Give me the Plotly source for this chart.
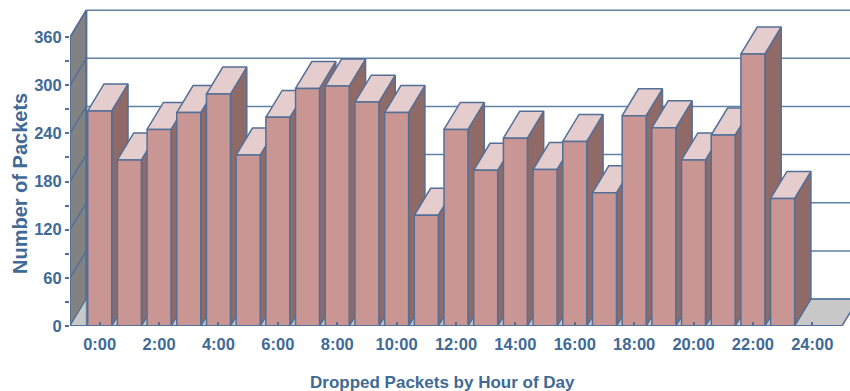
import plotly.graph_objects as go

hours = list(range(24))
packets = [268, 207, 245, 266, 289, 213, 260, 296, 299, 279, 266, 138,
           245, 194, 234, 195, 230, 166, 262, 247, 207, 238, 339, 159]
y_ticks = [0, 60, 120, 180, 240, 300, 360]
x_ticks = list(range(0, 25, 2))
x_labels = [f"{h}:00" for h in x_ticks]

X_MIN, X_MAX, Y_MAX = -1, 25.27, 400
AXIS_END = 25
DX, DY = 0.55, 33.6      # depth of the 3D box in axis units
HALF = 0.404
FRONT, TOP, SIDE = "#c99694", "#e6cdcd", "#8f6a66"
EDGE = "#546f96"
GRID = "#5f82a6"
TXT = "#3f6a96"
FONT = "Liberation Sans"

fig = go.Figure()

def poly(xs, ys, fill, line=EDGE, width=1.5):
    fig.add_trace(go.Scatter(x=xs, y=ys, mode="lines", fill="toself", fillcolor=fill,
                             line=dict(color=line, width=width), hoverinfo="skip",
                             showlegend=False, cliponaxis=False))

def seg(xs, ys, color=GRID, width=1.5):
    fig.add_trace(go.Scatter(x=xs, y=ys, mode="lines", line=dict(color=color, width=width),
                             hoverinfo="skip", showlegend=False, cliponaxis=False))

# floor
poly([X_MIN, AXIS_END, AXIS_END + DX, X_MIN + DX, X_MIN], [0, 0, DY, DY, 0], "#c8c8c8")
# back wall grid
for v in y_ticks:
    seg([X_MIN + DX, AXIS_END + DX], [v + DY, v + DY])
# left wall
poly([X_MIN, X_MIN, X_MIN + DX, X_MIN + DX, X_MIN], [0, 360, 360 + DY, DY, 0], "#828282")
for v in y_ticks:
    seg([X_MIN, X_MIN + DX], [v, v + DY], color=EDGE)
seg([X_MIN + DX, X_MIN + DX], [DY, 360 + DY], color=EDGE, width=2)
poly([X_MIN, X_MIN + DX, X_MIN + DX, X_MIN], [0, DY, 0, 0], "#c8c8c8", width=1)

# bars, painted left to right
for h, v in zip(hours, packets):
    l, r = h - HALF, h + HALF
    poly([r, r + DX, r + DX, r, r], [0, DY, v + DY, v, 0], SIDE)
    poly([l, r, r + DX, l + DX, l], [v, v, v + DY, v + DY, v], TOP)
    poly([l, r, r, l, l], [0, 0, v, v, 0], FRONT)

tick_font = dict(family=FONT, size=16.5, color=TXT, weight="bold")
fig.update_layout(
    width=850, height=391, margin=dict(l=70, r=0, t=5, b=65),
    paper_bgcolor="white", plot_bgcolor="white", showlegend=False,
    font=dict(family=FONT, color=TXT),
    xaxis=dict(range=[X_MIN, X_MAX], tickmode="array", tickvals=x_ticks, ticktext=x_labels,
               ticks="inside", ticklen=4, tickwidth=1.5, tickcolor=EDGE, showgrid=False,
               zeroline=False, showline=False, tickangle=0, ticklabelstandoff=6,
               tickfont=tick_font),
    yaxis=dict(range=[0, Y_MAX], tickmode="array", tickvals=y_ticks, ticks="outside", ticklen=4,
               tickwidth=1.5, tickcolor=EDGE, showgrid=False, zeroline=False, showline=False,
               minor=dict(tickmode="array", tickvals=[30, 90, 150, 210, 270, 330], ticks="outside",
                          ticklen=4, tickwidth=1.5, tickcolor=EDGE),
               tickfont=tick_font),
    annotations=[
        dict(text="Number of Packets", xref="paper", yref="paper", x=(20 - 70) / 780,
             y=(326 - 184) / 321, textangle=-90, showarrow=False, xanchor="center", yanchor="middle",
             font=dict(family=FONT, size=20, color=TXT, weight="bold")),
        dict(text="Dropped Packets by Hour of Day", xref="paper", yref="paper", x=(442.5 - 70) / 780,
             y=(326 - 382) / 321, showarrow=False, xanchor="center", yanchor="middle",
             font=dict(family=FONT, size=17, color=TXT, weight="bold")),
    ],
)
seg([X_MIN, AXIS_END], [0, 0], color=EDGE, width=2)
seg([X_MIN, X_MIN], [0, 360], color=EDGE, width=1.5)

fig.write_html("out.html", post_script="document.body.style.margin='0';", config={"displayModeBar": False})
